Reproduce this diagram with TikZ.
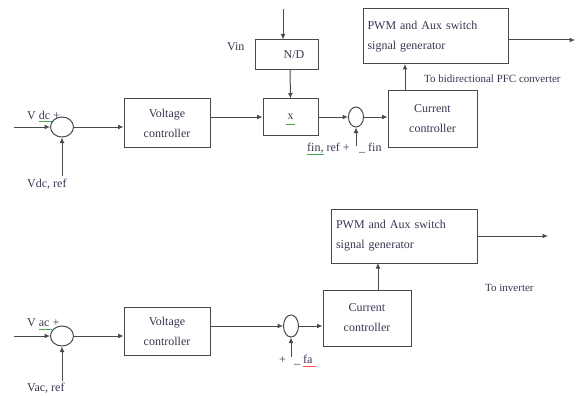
\documentclass[tikz,border=0pt]{standalone}
\usepackage{fontspec}
\setmainfont{Liberation Serif}
\usetikzlibrary{shapes.geometric,arrows.meta}
\definecolor{ln}{HTML}{4A4A4A}
\definecolor{tx}{HTML}{3E3552}
\definecolor{sq}{HTML}{3CA84A}
\begin{document}
\begin{tikzpicture}[x=1pt,y=-1pt,
  blk/.style={draw=ln,line width=1pt,rectangle,inner sep=0pt,text=tx,font=\fontsize{12}{20}\selectfont,align=center},
  sumj/.style={draw=ln,line width=1pt,ellipse,inner sep=0pt},
  lab/.style={text=tx,font=\fontsize{12}{13}\selectfont,inner sep=0pt},
  arr/.style={draw=ln,line width=1pt,-{Latex[length=5.5pt,width=5pt]}},
  ln/.style={draw=ln,line width=1pt}]
\useasboundingbox (0,0) rectangle (576,396);
\fill[white] (0,0) rectangle (576,396);
% ---------- top row ----------
\node[sumj,minimum width=23pt,minimum height=20pt] (s1) at (62,127) {};
\coordinate (in1) at (14,127);
\coordinate (r1) at (62,176);
\node[lab,anchor=west] (l1) at (27,115) {V dc +};
\node[lab,anchor=west] (l1r) at (27,184) {Vdc, ref};
\node[blk,minimum width=86pt,minimum height=48pt] (vc1) at (167,123) {Voltage\\controller};
\node[blk,minimum width=55pt,minimum height=36pt] (mx) at (290.5,117) {x};
\node[blk,minimum width=63pt,minimum height=30pt] (nd) at (286.5,55) {};
\node[lab] (ndt) at (294,55) {N/D};
\coordinate (ndin) at (283,9);
\node[lab,anchor=west] (vin) at (227,47) {Vin};
\node[sumj,minimum width=15pt,minimum height=20pt] (s2) at (356,117) {};
\coordinate (r2) at (356,146);
\node[lab,anchor=west] (l2) at (307,148) {fin, ref +};
\node[lab,anchor=west] (l2b) at (359,148) {\_ fin};
\node[blk,minimum width=89pt,minimum height=56pt] (cc1) at (432.5,119) {Current\\controller};
\node[blk,minimum width=145pt,minimum height=55pt,align=left,text width=136pt] (pw1) at (435.5,36.5) {PWM and Aux switch\\signal generator};
\coordinate (out1) at (575,40);
\node[lab,anchor=west,font=\fontsize{11}{12}\selectfont] (to1) at (424,79) {To bidirectional PFC converter};
\draw[arr] (in1) -- (s1.west);
\draw[arr] (r1) -- (s1.south);
\draw[arr] (s1.east) -- (vc1.west |- s1.east);
\draw[arr] (vc1.east |- mx.west) -- (mx.west);
\draw[arr] (ndin) -- (ndin |- nd.north);
\draw[arr] (290,70) -- (mx.north);
\draw[arr] (mx.east) -- (s2.west);
\draw[arr] (r2) -- (s2.south);
\draw[arr] (s2.east) -- (cc1.west |- s2.east);
\draw[arr] (405,91) -- (405,64);
\draw[arr] (pw1.east |- out1) -- (out1);
% ---------- bottom row ----------
\node[sumj,minimum width=23pt,minimum height=20pt] (s3) at (62,336) {};
\coordinate (in3) at (14,336);
\coordinate (r3) at (62,381);
\node[lab,anchor=west] (l3) at (27,323) {V ac +};
\node[lab,anchor=west] (l3r) at (27,388) {Vac, ref};
\node[blk,minimum width=86pt,minimum height=48pt] (vc2) at (167,331) {Voltage\\controller};
\node[sumj,minimum width=15pt,minimum height=22pt] (s4) at (291,326) {};
\coordinate (r4) at (291,357);
\node[lab,anchor=west] (l4) at (279,360) {+};
\node[lab,anchor=west] (l4b) at (294,360) {\_ fa};
\node[blk,minimum width=88pt,minimum height=56pt] (cc2) at (367,318) {Current\\controller};
\node[blk,minimum width=146pt,minimum height=54pt,align=left,text width=136pt] (pw2) at (404,236) {PWM and Aux switch\\signal generator};
\coordinate (out2) at (548,236);
\node[lab,anchor=west,font=\fontsize{11}{12}\selectfont] (to2) at (485,288) {To inverter};
\draw[arr] (in3) -- (s3.west);
\draw[arr] (r3) -- (s3.south);
\draw[arr] (s3.east) -- (vc2.west |- s3.east);
\draw[arr] (vc2.east |- s4.west) -- (s4.west);
\draw[arr] (r4) -- (s4.south);
\draw[arr] (s4.east) -- (cc2.west |- s4.east);
\draw[arr] (378,290) -- (378,263);
\draw[arr] (pw2.east) -- (out2);
% spell-check squiggles
\draw[sq,line width=1pt] (39,121) -- (52,121);
\draw[sq,line width=1pt] (39,329) -- (52,329);
\draw[sq,line width=1pt] (286,124) -- (295,124);
\draw[sq,line width=1pt] (307,154) -- (324,154);
\draw[red!70,line width=1pt] (303,366) -- (316,366);
\end{tikzpicture}
\end{document}
